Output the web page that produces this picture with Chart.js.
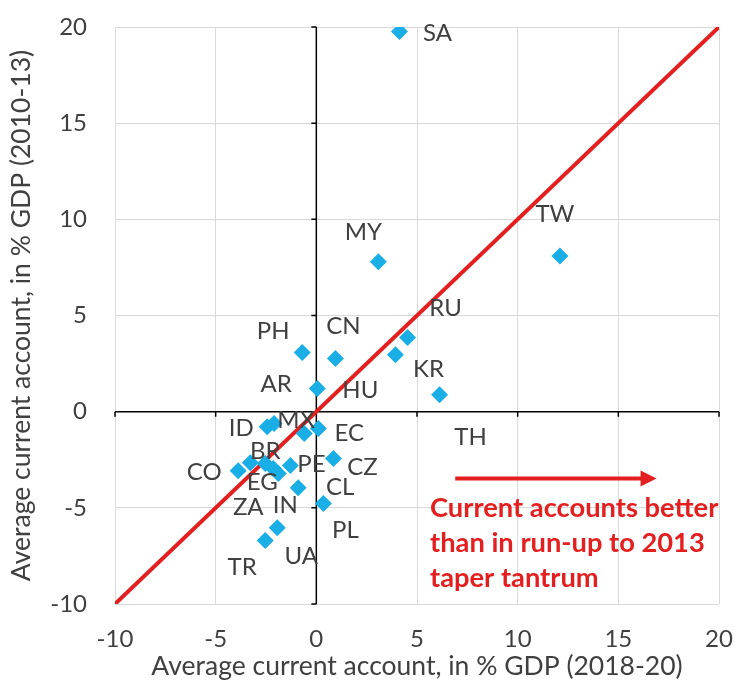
<!DOCTYPE html>
<html>
<head>
<meta charset="utf-8">
<script src="https://cdn.jsdelivr.net/npm/chart.js@4/dist/chart.umd.min.js"></script>
<style>
  html, body { margin: 0; padding: 0; background: #fff; }
  #c { display: block; }
</style>
</head>
<body>
<canvas id="c" width="739" height="687"></canvas>
<script>
// Data
const countries = ['SA', 'MY', 'TW', 'RU', 'KR', 'TH', 'PH', 'CN', 'HU', 'AR', 'ID', 'MX',
                   'EC', 'CO', 'BR', 'EG', 'ZA', 'IN', 'PE', 'CL', 'PL', 'CZ', 'UA', 'TR'];
const ca2018to20 = [4.13, 3.08, 12.1, 4.53, 3.93, 6.12, -0.7, 0.95, 0.05, -2.1, -2.44, -0.6,
                    0.1, -3.88, -3.28, -2.54, -2.14, -1.89, -1.29, -0.9, 0.35, 0.85, -1.94, -2.54];
const ca2010to13 = [19.76, 7.8, 8.1, 3.85, 2.96, 0.88, 3.07, 2.76, 1.2, -0.62, -0.78, -1.14,
                    -0.88, -3.07, -2.65, -2.7, -2.96, -3.22, -2.8, -3.95, -4.78, -2.44, -6.03, -6.7];
const diagonal = [-10, 20];
const axisMin = -10, axisMax = 20, axisStep = 5;

// label placement (pixels, relative to the marker)
const labelOffsets = [[38, 2], [-15, -29], [-5, -42], [38, -29], [33, 15], [31, 43], [-29, -21], [8, -32],
                      [43, 2], [2, -39], [-26, 2], [-8, -13], [31, 5], [-34, 2], [15, -11], [-3, 19],
                      [-25, 39], [7, 32], [21, -1], [42, 0], [22, 27], [29, 9], [24, 29], [-23, 27]];

const noteLines = ['Current accounts better', 'than in run-up to 2013', 'taper tantrum'];
const arrowFrom = { x: 6.9, y: -3.48 };
const arrowTo = { x: 16.9, y: -3.48 };

const RED = '#e41f1f';
const BLUE = '#1aaee6';
const TEXT = '#404040';
const FONT = 'Lato, "Open Sans", sans-serif';

const points = countries.map((c, i) => ({ x: ca2018to20[i], y: ca2010to13[i] }));

function noEdgePadding(scale) {
    scale.paddingTop = 0;
    scale.paddingBottom = 0;
    scale.paddingLeft = 0;
    scale.paddingRight = 0;
}

const zeroAxes = {
    id: 'zeroAxes',
    beforeDatasetsDraw(chart) {
        const { ctx, chartArea: a, scales: { x, y } } = chart;
        const x0 = x.getPixelForValue(0);
        const y0 = y.getPixelForValue(0);
        ctx.save();
        ctx.strokeStyle = '#000';
        ctx.lineWidth = 1.5;
        ctx.beginPath();
        ctx.moveTo(x0, a.top); ctx.lineTo(x0, a.bottom);
        ctx.moveTo(a.left, y0); ctx.lineTo(a.right, y0);
        y.ticks.forEach(t => {
            const py = y.getPixelForValue(t.value);
            ctx.moveTo(x0 - 5, py); ctx.lineTo(x0, py);
        });
        x.ticks.forEach(t => {
            const px = x.getPixelForValue(t.value);
            ctx.moveTo(px, y0); ctx.lineTo(px, y0 + 5);
        });
        ctx.stroke();
        ctx.restore();
    }
};

const annotations = {
    id: 'annotations',
    afterDatasetsDraw(chart) {
        const { ctx, scales: { x, y } } = chart;
        const meta = chart.getDatasetMeta(0);
        ctx.save();
        // country labels
        ctx.fillStyle = TEXT;
        ctx.font = '24px ' + FONT;
        ctx.textAlign = 'center';
        ctx.textBaseline = 'middle';
        meta.data.forEach((el, i) => {
            ctx.fillText(countries[i], el.x + labelOffsets[i][0], el.y + labelOffsets[i][1]);
        });

        // arrow
        const ax1 = x.getPixelForValue(arrowFrom.x), ay = y.getPixelForValue(arrowFrom.y);
        const ax2 = x.getPixelForValue(arrowTo.x);
        ctx.strokeStyle = RED;
        ctx.fillStyle = RED;
        ctx.lineWidth = 4;
        ctx.beginPath();
        ctx.moveTo(ax1, ay); ctx.lineTo(ax2 - 14, ay);
        ctx.stroke();
        ctx.beginPath();
        ctx.moveTo(ax2, ay); ctx.lineTo(ax2 - 16, ay - 8); ctx.lineTo(ax2 - 16, ay + 8);
        ctx.closePath();
        ctx.fill();

        // note text
        ctx.font = 'bold 22px ' + FONT;
        const w = ctx.measureText(noteLines[0]).width;
        const size = 22 * 288 / w;
        ctx.font = 'bold ' + size.toFixed(1) + 'px ' + FONT;
        ctx.textAlign = 'left';
        const tx = 430, ty = 508;
        noteLines.forEach((line, i) => ctx.fillText(line, tx, ty + i * 35));
        ctx.restore();
    }
};

new Chart(document.getElementById('c'), {
    type: 'scatter',
    data: {
        datasets: [
            {
                label: 'Countries',
                data: points,
                pointStyle: 'rectRot',
                pointRadius: 8.5,
                pointHoverRadius: 8.5,
                backgroundColor: BLUE,
                borderColor: BLUE,
                borderWidth: 0
            },
            {
                label: '45 degree line',
                type: 'line',
                data: diagonal.map(v => ({ x: v, y: v })),
                borderColor: RED,
                borderWidth: 4,
                pointRadius: 0,
                fill: false
            }
        ]
    },
    options: {
        responsive: false,
        animation: false,
        layout: { padding: { top: 27, right: 20, left: 0, bottom: 0 } },
        plugins: { legend: { display: false }, tooltip: { enabled: false } },
        scales: {
            x: {
                min: axisMin, max: axisMax,
                border: { display: false },
                grid: { color: '#d9d9d9', drawTicks: false },
                ticks: { stepSize: axisStep, color: TEXT, padding: 21, font: { family: FONT, size: 24 } },
                title: {
                    display: true,
                    text: 'Average current account, in % GDP (2018-20)',
                    color: TEXT,
                    font: { family: FONT, size: 26.5 },
                    padding: { top: 0, bottom: 5 }
                },
                afterFit(scale) { scale.height = 83; noEdgePadding(scale); }
            },
            y: {
                min: axisMin, max: axisMax,
                border: { display: false },
                grid: { color: '#d9d9d9', drawTicks: false },
                ticks: { stepSize: axisStep, color: TEXT, padding: 28, font: { family: FONT, size: 24 } },
                title: {
                    display: true,
                    text: 'Average current account, in % GDP (2010-13)',
                    color: TEXT,
                    font: { family: FONT, size: 26.5 },
                    padding: { top: 6, bottom: 0 }
                },
                afterFit(scale) { scale.width = 115; noEdgePadding(scale); }
            }
        }
    },
    plugins: [zeroAxes, annotations]
});
</script>
</body>
</html>
